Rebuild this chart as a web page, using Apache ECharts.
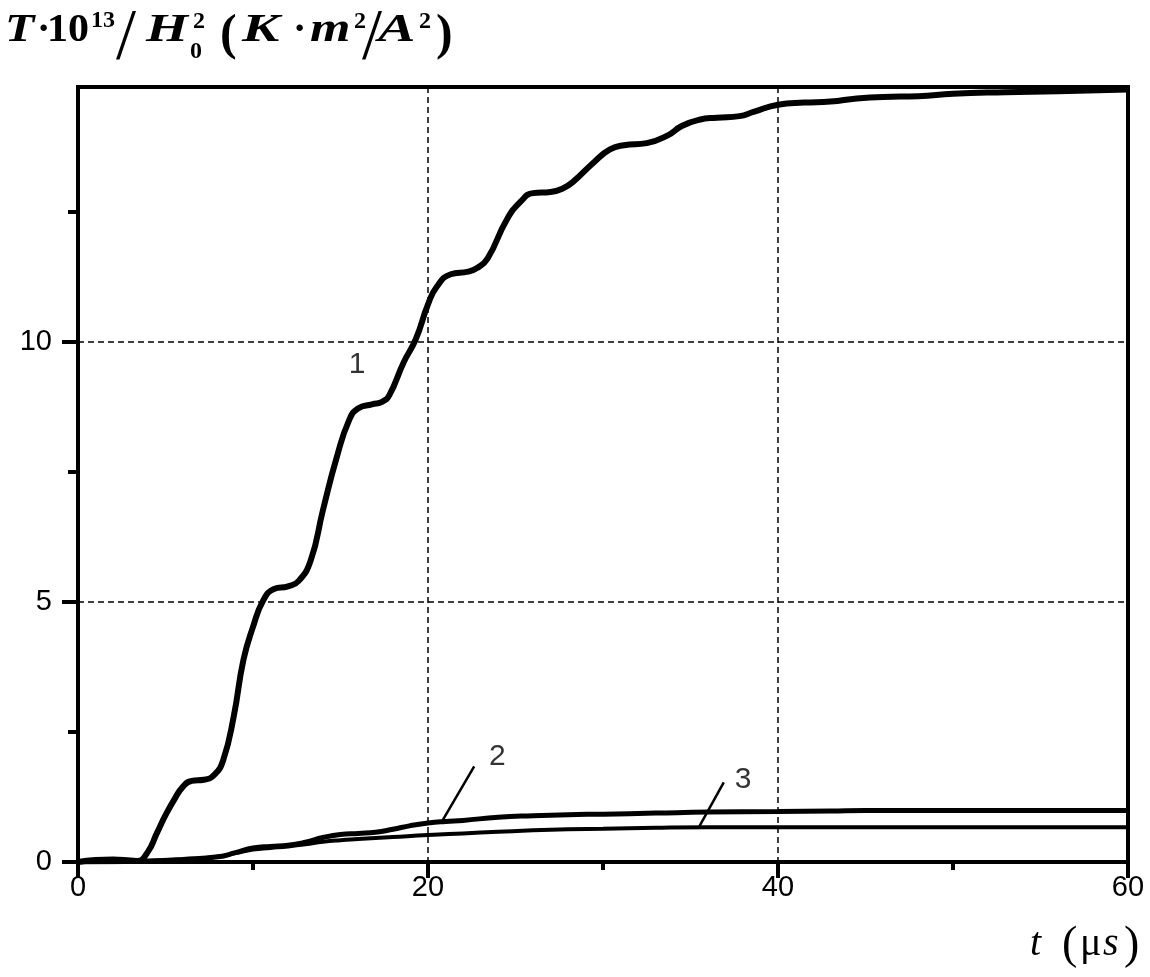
<!DOCTYPE html>
<html>
<head>
<meta charset="utf-8">
<script src="https://cdn.jsdelivr.net/npm/echarts@6/dist/echarts.min.js"></script>
<style>
html, body { margin: 0; padding: 0; background: #fff; }
#chart { width: 1150px; height: 977px; }
</style>
</head>
<body>
<div id="chart"></div>
<script>
// t (us) / value pairs
var curve1 = [
	[0,0],[1,0.04],[2,0.05],[3,0.03],[3.4,0.02],[4,0.2],[4.5,0.55],[5,0.9],[5.5,1.2],[6,1.45],
	[6.5,1.56],[7.2,1.58],[7.8,1.68],[8.3,1.96],[8.9,2.8],[9.45,3.88],[10,4.52],[10.6,5.04],
	[11.2,5.25],[12,5.3],[12.6,5.4],[13.3,5.8],[14,6.77],[14.8,7.8],[15.5,8.5],[16,8.72],
	[16.8,8.8],[17.4,8.85],[17.8,8.98],[18.6,9.6],[19.3,10.05],[20,10.72],[20.5,11.06],
	[21.3,11.3],[22.3,11.35],[22.8,11.42],[23.4,11.6],[24.5,12.35],[25.3,12.7],[26,12.86],
	[27,12.88],[27.7,12.95],[28.3,13.08],[29.5,13.46],[30.4,13.7],[31.2,13.78],[32.5,13.82],
	[33.7,13.97],[34.5,14.15],[35.5,14.27],[36.5,14.31],[37.8,14.34],[38.6,14.42],[40,14.56],
	[41.5,14.6],[43,14.62],[44.5,14.68],[46,14.71],[48,14.72],[50,14.77],[53,14.8],[56,14.82],[60,14.85]
];
var curve2 = [
	[0,0],[4,0.02],[6,0.05],[8,0.1],[9,0.18],[10,0.27],[11,0.3],[12,0.32],[13,0.38],[14,0.47],
	[15,0.53],[16,0.55],[17,0.57],[18,0.63],[19,0.7],[20,0.75],[21,0.78],[22,0.8],[24,0.86],
	[26,0.89],[28,0.91],[30,0.92],[33,0.94],[36,0.96],[40,0.97],[43,0.98],[45,0.99],[50,0.99],
	[55,0.99],[60,0.99]
];
var curve3 = [
	[0,0],[4,0.02],[6,0.05],[8,0.1],[9,0.17],[10,0.24],[11,0.27],[12,0.3],[13,0.34],[14,0.39],
	[15,0.42],[16,0.44],[17,0.46],[18,0.48],[20,0.52],[22,0.55],[24,0.58],[26,0.61],[28,0.63],
	[30,0.64],[33,0.66],[36,0.67],[40,0.67],[45,0.67],[50,0.67],[55,0.67],[60,0.67]
];
// curve numbers and their leader lines (data coords)
var curveLabels = [
	{ name: '1', value: [15.95, 9.56] },
	{ name: '2', value: [23.96, 2.03] },
	{ name: '3', value: [38.0, 1.59] }
];
var leader2 = [[20.8, 0.78], [22.64, 1.84]];
var leader3 = [[35.45, 0.65], [36.9, 1.53]];

var xTicks = { min: 0, max: 60, step: 20 };
var yTicks = { min: 0, max: 14.9, step: 5, values: [0, 5, 10] };

// axis titles, drawn as separate glyphs: [text, x, baseline, size, style, weight, scaleX]
var serif = '"Liberation Serif", "Times New Roman", serif';
var yTitleParts = [
	['T', 5, 43, 40, 'italic', 'bold', 1.2],
	['\u00b7', 37, 43, 40, 'normal', 'bold', 1],
	['10', 47, 43, 40, 'normal', 'bold', 1.05],
	['13', 91, 28, 24, 'normal', 'bold', 1],
	['/', 116, 61, 72, 'normal', 'normal', 1],
	['H', 146, 43, 40, 'italic', 'bold', 1.35],
	['2', 193, 29, 24, 'normal', 'bold', 1],
	['0', 190, 59, 24, 'normal', 'bold', 1],
	['(', 220, 51, 50, 'normal', 'bold', 1],
	['K', 242, 43, 40, 'italic', 'bold', 1.4],
	['\u00b7', 293, 43, 40, 'normal', 'bold', 1],
	['m', 310, 43, 40, 'italic', 'bold', 1.3],
	['2', 354, 29, 24, 'normal', 'bold', 1],
	['/', 362, 61, 72, 'normal', 'normal', 1],
	['A', 378, 43, 40, 'italic', 'bold', 1.4],
	['2', 419, 29, 24, 'normal', 'bold', 1],
	[')', 436, 51, 50, 'normal', 'bold', 1]
];
var xTitleParts = [
	['t', 1030, 956, 40, 'italic', 'normal', 1],
	['(', 1062, 960, 46, 'normal', 'normal', 1],
	['\u03bc', 1080, 956, 40, 'normal', 'normal', 1],
	['s', 1103, 956, 40, 'italic', 'normal', 1],
	[')', 1124, 960, 46, 'normal', 'normal', 1]
];

function buildGlyphs(parts){
	var out = [];
	for (var i = 0; i < parts.length; i++) {
		var p = parts[i];
		out.push({
			type: 'text',
			x: p[1],
			y: p[2] - 0.3 * p[3],
			scaleX: p[6],
			style: {
				text: p[0],
				font: p[4] + ' ' + p[5] + ' ' + p[3] + 'px ' + serif,
				fill: '#000',
				align: 'left',
				verticalAlign: 'middle'
			}
		});
	}
	return out;
}

var black = '#000';
var sans = '"Liberation Sans", Arial, sans-serif';
var splitStyle = { color: black, width: 1.5, type: [6, 4] };

function lineSeries(name, data, width){
	return {
		name: name,
		type: 'line',
		data: data,
		smooth: 0.5,
		showSymbol: false,
		symbol: 'none',
		lineStyle: { color: black, width: width },
		z: 3
	};
}

var myChart = echarts.init(document.getElementById('chart'));
var option = {
	animation: false,
	backgroundColor: '#fff',
	grid: {
		left: 78, right: 22, top: 87, bottom: 115,
		show: true, borderColor: black, borderWidth: 4
	},
	xAxis: {
		type: 'value',
		min: xTicks.min, max: xTicks.max, interval: xTicks.step,
		axisLine: { show: true, lineStyle: { color: black, width: 4 } },
		axisTick: { show: true, length: 16, lineStyle: { color: black, width: 4 } },
		minorTick: { show: true, splitNumber: 2, length: 8, lineStyle: { color: black, width: 4 } },
		axisLabel: { color: black, fontSize: 29, fontFamily: sans, margin: 11 },
		splitLine: { show: true, lineStyle: splitStyle }
	},
	yAxis: {
		type: 'value',
		min: yTicks.min, max: yTicks.max, interval: yTicks.step,
		axisLine: { show: true, lineStyle: { color: black, width: 4 } },
		axisTick: { show: true, length: 16, customValues: yTicks.values, lineStyle: { color: black, width: 4 } },
		minorTick: { show: true, splitNumber: 2, length: 10, lineStyle: { color: black, width: 4 } },
		axisLabel: { color: black, fontSize: 29, fontFamily: sans, margin: 26, customValues: yTicks.values },
		splitLine: { show: true, lineStyle: splitStyle }
	},
	graphic: buildGlyphs(yTitleParts).concat(buildGlyphs(xTitleParts)),
	series: [
		lineSeries('1', curve1, 6),
		lineSeries('2', curve2, 5),
		lineSeries('3', curve3, 4),
		{
			type: 'line', data: leader2, symbol: 'none',
			lineStyle: { color: black, width: 2.5 }, z: 4
		},
		{
			type: 'line', data: leader3, symbol: 'none',
			lineStyle: { color: black, width: 2.5 }, z: 4
		},
		{
			type: 'scatter',
			data: curveLabels,
			symbolSize: 2,
			itemStyle: { color: 'rgba(0,0,0,0)' },
			label: {
				show: true, position: 'inside', formatter: '{b}',
				color: black, fontSize: 30, fontFamily: sans, textBorderWidth: 0
			},
			z: 5
		}
	]
};
myChart.setOption(option);
</script>
</body>
</html>
